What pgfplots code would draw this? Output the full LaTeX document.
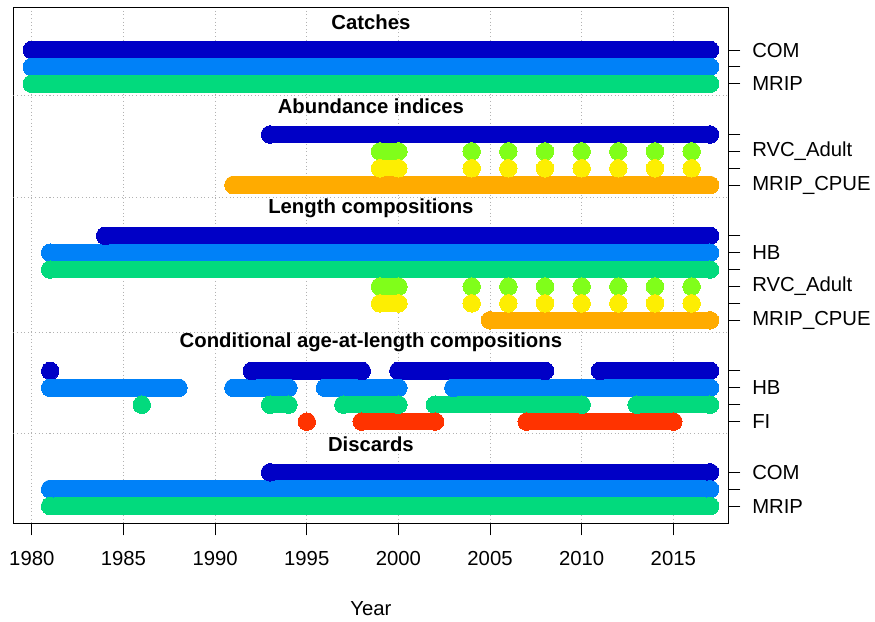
\documentclass[border=0pt]{standalone}
\usepackage{fontspec}
\setmainfont{Liberation Sans}
\usepackage{pgfplots}
\pgfplotsset{compat=1.18}
\definecolor{cA}{RGB}{0,0,198}
\definecolor{cB}{RGB}{0,129,248}
\definecolor{cC}{RGB}{2,218,125}
\definecolor{cD}{RGB}{128,254,26}
\definecolor{cE}{RGB}{253,238,2}
\definecolor{cF}{RGB}{255,171,0}
\definecolor{cG}{RGB}{255,51,0}
\pgfplotsset{seg/.style={line width=17.5pt, line cap=round, line join=round, mark=*, mark size=8.75pt, mark options={line width=0pt}, unbounded coords=jump, forget plot}}
\tikzset{hgrid/.style={gray!60, line width=0.8pt, dash pattern=on 1pt off 2.6pt}}
\begin{document}
\fontsize{20.3}{24}\selectfont
\begin{tikzpicture}
\useasboundingbox (-13.5pt,-97.7pt) rectangle (861.5pt,523.3pt);
\begin{axis}[
  at={(0,0)}, anchor=south west,
  scale only axis, width=714.8pt, height=516pt,
  xmin=1979, xmax=2018, ymin=-1.53, ymax=29.02, y dir=reverse,
  axis line style={line width=1pt, black},
  xtick={1980,1985,...,2015},
  xtick pos=left, ytick pos=right, yticklabel pos=right,
  tick align=outside, major tick length=12pt,
  tick style={line width=1pt, black},
  ytick={1,2,3,6,7,8,9,12,13,14,15,16,17,20,21,22,23,26,27,28},
  yticklabels={COM,,MRIP,,RVC\_Adult,,MRIP\_CPUE,,HB,,RVC\_Adult,,MRIP\_CPUE,,HB,,FI,COM,,MRIP},
  /pgf/number format/assume math mode=true,
  x tick label style={/pgf/number format/1000 sep={}, yshift=-9pt},
  y tick label style={xshift=5pt},
  xmajorgrids,
  major grid style={gray!60, line width=0.8pt, dash pattern=on 1pt off 2.6pt},
  xlabel={Year},
  xlabel style={at={(axis description cs:0.5,0)}, anchor=base, yshift=-91.7pt},
]
\draw[hgrid] (axis cs:1979,3.7) -- (axis cs:2018,3.7);
\draw[hgrid] (axis cs:1979,9.7) -- (axis cs:2018,9.7);
\draw[hgrid] (axis cs:1979,17.7) -- (axis cs:2018,17.7);
\draw[hgrid] (axis cs:1979,23.7) -- (axis cs:2018,23.7);
% Catches
\addplot[cA,seg] coordinates {(1980,1) (2017,1)};
\addplot[cB,seg] coordinates {(1980,2) (2017,2)};
\addplot[cC,seg] coordinates {(1980,3) (2017,3)};
% Abundance indices
\addplot[cA,seg] coordinates {(1993,6) (2017,6)};
\addplot[cD,seg] coordinates {(1999,7) (2000,7) (2002,nan) (2004,7) (2005,nan) (2006,7) (2007,nan) (2008,7) (2009,nan) (2010,7) (2011,nan) (2012,7) (2013,nan) (2014,7) (2015,nan) (2016,7)};
\addplot[cE,seg] coordinates {(1999,8) (2000,8) (2002,nan) (2004,8) (2005,nan) (2006,8) (2007,nan) (2008,8) (2009,nan) (2010,8) (2011,nan) (2012,8) (2013,nan) (2014,8) (2015,nan) (2016,8)};
\addplot[cF,seg] coordinates {(1991,9) (2017,9)};
% Length compositions
\addplot[cA,seg] coordinates {(1984,12) (2017,12)};
\addplot[cB,seg] coordinates {(1981,13) (2017,13)};
\addplot[cC,seg] coordinates {(1981,14) (2017,14)};
\addplot[cD,seg] coordinates {(1999,15) (2000,15) (2002,nan) (2004,15) (2005,nan) (2006,15) (2007,nan) (2008,15) (2009,nan) (2010,15) (2011,nan) (2012,15) (2013,nan) (2014,15) (2015,nan) (2016,15)};
\addplot[cE,seg] coordinates {(1999,16) (2000,16) (2002,nan) (2004,16) (2005,nan) (2006,16) (2007,nan) (2008,16) (2009,nan) (2010,16) (2011,nan) (2012,16) (2013,nan) (2014,16) (2015,nan) (2016,16)};
\addplot[cF,seg] coordinates {(2005,17) (2017,17)};
% Conditional age-at-length compositions
\addplot[cA,seg] coordinates {(1981,20) (1986,nan) (1992,20) (1998,20) (1999,nan) (2000,20) (2008,20) (2010,nan) (2011,20) (2017,20)};
\addplot[cB,seg] coordinates {(1981,21) (1988,21) (1989,nan) (1991,21) (1994,21) (1995,nan) (1996,21) (2000,21) (2001,nan) (2003,21) (2017,21)};
\addplot[cC,seg] coordinates {(1986,22) (1990,nan) (1993,22) (1994,22) (1995,nan) (1997,22) (2000,22) (2001,nan) (2002,22) (2010,22) (2011,nan) (2013,22) (2017,22)};
\addplot[cG,seg] coordinates {(1995,23) (1996,nan) (1998,23) (2002,23) (2004,nan) (2007,23) (2015,23)};
% Discards
\addplot[cA,seg] coordinates {(1993,26) (2017,26)};
\addplot[cB,seg] coordinates {(1981,27) (2017,27)};
\addplot[cC,seg] coordinates {(1981,28) (2017,28)};
% section titles
\node[font=\bfseries, anchor=base] at (axis cs:1998.5,-0.23) {Catches};
\node[font=\bfseries, anchor=base] at (axis cs:1998.5,4.75) {Abundance indices};
\node[font=\bfseries, anchor=base] at (axis cs:1998.5,10.68) {Length compositions};
\node[font=\bfseries, anchor=base] at (axis cs:1998.5,18.63) {Conditional age-at-length compositions};
\node[font=\bfseries, anchor=base] at (axis cs:1998.5,24.78) {Discards};
\end{axis}
\end{tikzpicture}
\end{document}
